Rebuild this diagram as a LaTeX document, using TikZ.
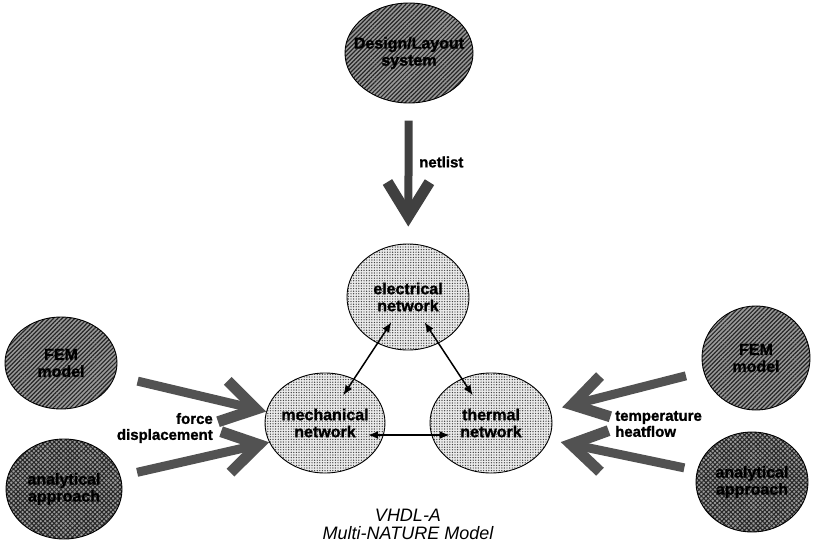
\documentclass[tikz,border=0pt]{standalone}
\usepackage{fontspec}
\setmainfont{Liberation Sans}[BoldFeatures={FakeBold=1.2}]
\usetikzlibrary{arrows.meta,shapes.geometric,patterns.meta,calc}

\newcommand{\nodefont}{\fontsize{16}{17}\selectfont\bfseries}
\newcommand{\lblfont}{\fontsize{15}{16}\selectfont\bfseries}

\tikzset{
  net/.style={ellipse, draw, line width=0.9pt, inner xsep=-12pt, inner ysep=0pt,
    align=center, font=\nodefont, preaction={fill=black!8},
    pattern={Dots[radius=0.7pt,distance=2.6pt]}, pattern color=black!75},
  src/.style={ellipse, draw, line width=0.9pt, inner xsep=-12pt, inner ysep=0pt,
    align=center, font=\nodefont, preaction={fill=black!40},
    pattern={Lines[angle=45,distance=3pt,line width=1.2pt]}, pattern color=black!85},
  approach/.style={src, pattern={Hatch[angle=45,distance=3.2pt,line width=1pt]}},
  fat/.style={line width=9pt, color=black!68,
    -{Straight Barb[length=34pt,width=42pt,line width=11pt,sharp]}},
  link/.style={line width=1.5pt, {Latex[length=10pt,width=8pt]}-{Latex[length=10pt,width=8pt]}},
  lbl/.style={font=\lblfont, fill=white, inner sep=1pt}
}

\begin{document}
\begin{tikzpicture}[x=1pt,y=-1pt]
\useasboundingbox (0,0) rectangle (814,546);

% sources
\node[src, minimum width=128pt, minimum height=100pt] (design) at (409,53) {Design/Layout\\system};
\node[src, minimum width=112pt, minimum height=92pt] (femL) at (61,363) {FEM\\model};
\node[approach, minimum width=116pt, minimum height=100pt] (anaL) at (64,489) {analytical\\approach};
\node[src, minimum width=108pt, minimum height=104pt] (femR) at (756,358) {FEM\\model};
\node[approach, minimum width=112pt, minimum height=100pt] (anaR) at (752,482) {analytical\\approach};

% networks
\node[net, minimum width=122pt, minimum height=106pt] (elec) at (408,297) {electrical\\network};
\node[net, minimum width=120pt, minimum height=100pt] (mech) at (325,423) {mechanical\\network};
\node[net, minimum width=122pt, minimum height=100pt] (therm) at (491,423) {thermal\\network};

% fat arrows
\draw[fat, color=black!75, line width=8pt, shorten <=17pt, shorten >=17pt] (design) -- (elec);
\draw[fat, shorten <=23pt] (femL) -- (mech.169);
\draw[fat, shorten <=17pt] (anaL) -- (mech.199);
\draw[fat, shorten <=18pt, shorten >=12pt] (femR) -- (therm.12);
\draw[fat, shorten <=13pt, shorten >=12pt] (anaR) -- (therm.-16);

% coupling
\draw[link] ($(elec)!0.2!(mech)$) -- ($(elec)!0.78!(mech)$);
\draw[link] ($(elec)!0.2!(therm)$) -- ($(elec)!0.78!(therm)$);
\draw[link] ($(mech)!0.26!(therm)+(0,12)$) -- ($(mech)!0.75!(therm)+(0,12)$);

% labels
\node[lbl, anchor=west] (netlist) at (418,162) {netlist};
\node[lbl, anchor=east, align=right] (mechlbl) at (214,428) {force\\displacement};
\node[lbl, anchor=west, align=left] (thermlbl) at (614,424) {temperature\\heatflow};
\node[font=\fontsize{18}{18}\selectfont\itshape, align=center] (caption) at (408,524) {VHDL-A\\Multi-NATURE Model};
\end{tikzpicture}
\end{document}
